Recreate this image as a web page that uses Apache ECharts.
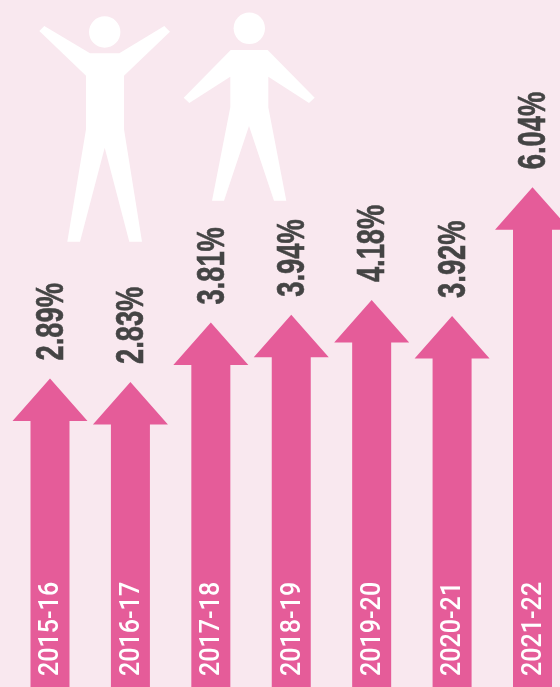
<!DOCTYPE html>
<html>
<head>
<meta charset="utf-8">
<title>chart</title>
<style>
	html, body { margin: 0; padding: 0; background: #f9e8ef; }
	#chart { width: 560px; height: 687px; }
</style>
</head>
<body>
<div id="chart"></div>
<script src="https://cdn.jsdelivr.net/npm/echarts@6/dist/echarts.min.js"></script>
<script type="text/javascript">
var years = ['2015-16', '2016-17', '2017-18', '2018-19', '2019-20', '2020-21', '2021-22'];
var percents = [2.89, 2.83, 3.81, 3.94, 4.18, 3.92, 6.04];

var PINK = '#e55c99';
var myChart = echarts.init(document.getElementById('chart'));

// 箭头 + 竖排文字
function renderArrow(params, api) {
	var idx = api.value(0);
	var val = api.value(1);
	var tip = api.coord([idx, val]);
	var bottom = api.getHeight();
	var headW = 37.5, shaftW = 19.5, headH = 42.5;
	var x = tip[0], y = tip[1];
	return {
		type: 'group',
		children: [{
			type: 'polygon',
			shape: {
				points: [
					[x, y], [x + headW, y + headH], [x + shaftW, y + headH], [x + shaftW, bottom],
					[x - shaftW, bottom], [x - shaftW, y + headH], [x - headW, y + headH]
				]
			},
			style: { fill: PINK }
		}, {
			type: 'text',
			x: x + 2,
			y: y - 18,
			rotation: Math.PI / 2,
			scaleX: 0.7,
			style: {
				text: val.toFixed(2) + '%',
				font: 'bold 39px "Liberation Sans"',
				fill: '#444444',
				stroke: '#444444',
				lineWidth: 0.6,
				align: 'left',
				verticalAlign: 'middle'
			}
		}, {
			type: 'text',
			x: x + 1.5,
			y: bottom - 11,
			rotation: Math.PI / 2,
			scaleX: 0.93,
			style: {
				text: years[idx],
				font: '500 27px Roboto',
				fill: '#ffffff',
				align: 'left',
				verticalAlign: 'middle'
			}
		}]
	};
}

var option = {
	backgroundColor: '#f9e8ef',
	animation: false,
	grid: { left: 50, right: 27.5, top: 0, bottom: 0 },
	xAxis: { type: 'category', data: years, show: false, boundaryGap: false },
	yAxis: { type: 'value', min: -2.194, max: 9.124, show: false },
	// 两个小人
	graphic: [{
		type: 'polygon',
		silent: true,
		shape: {
			points: [[39.3, 31], [44.3, 26], [90, 53.3], [119.3, 53.3], [164.3, 26], [170, 31.7], [124, 75.7],
				[124, 129.3], [142, 241.7], [129.3, 241.7], [104.7, 147.7], [80, 241.7], [67.3, 241.7], [86, 129.3], [86, 75.7]]
		},
		style: { fill: '#ffffff' }
	}, {
		type: 'circle',
		silent: true,
		shape: { cx: 104.7, cy: 32, r: 15.7 },
		style: { fill: '#ffffff' }
	}, {
		type: 'polygon',
		silent: true,
		shape: {
			points: [[230.7, 50], [267.7, 50], [314.7, 97.7], [309, 103], [268.3, 76.7], [268.3, 107.3], [286.3, 200.7],
				[274, 200.7], [249, 126], [224, 200.7], [212, 200.7], [230.3, 107.3], [230.3, 76.7], [189.3, 103], [183.7, 97.7]]
		},
		style: { fill: '#ffffff' }
	}, {
		type: 'circle',
		silent: true,
		shape: { cx: 249.3, cy: 28.3, r: 15.7 },
		style: { fill: '#ffffff' }
	}],
	series: [{
		type: 'custom',
		renderItem: renderArrow,
		clip: false,
		data: percents.map(function(v, i) { return [i, v]; }),
		encode: { x: 0, y: 1 }
	}]
};
myChart.setOption(option);
</script>
</body>
</html>
